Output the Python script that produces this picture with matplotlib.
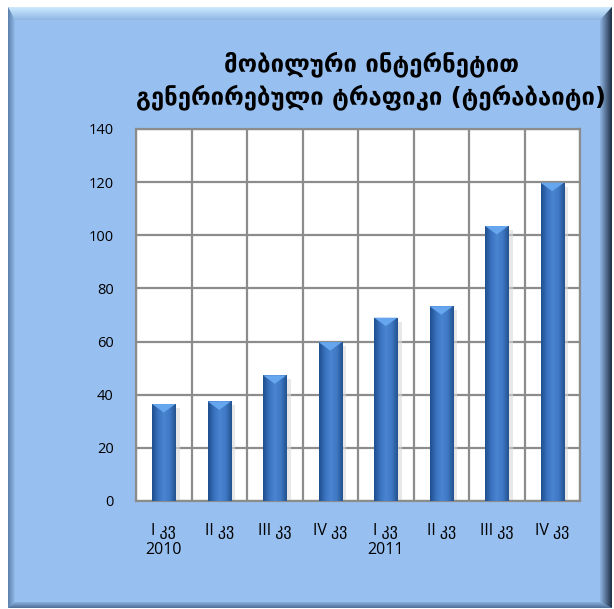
import numpy as np
import matplotlib
matplotlib.use("Agg")
import matplotlib.pyplot as plt
from matplotlib.patches import Polygon, Rectangle
from matplotlib.colors import LinearSegmentedColormap

plt.rcParams['font.family'] = ['Open Sans', 'DejaVu Sans']

# quarterly mobile internet traffic, terabytes
quarters = ["I კვ", "II კვ", "III კვ", "IV კვ", "I კვ", "II კვ", "III კვ", "IV კვ"]
years = ["2010", "", "", "", "2011", "", "", ""]
traffic = [36.5, 37.5, 47.3, 59.8, 69.0, 73.3, 103.5, 119.8]
title = "მობილური ინტერნეტით\nგენერირებული ტრაფიკი (ტერაბაიტი)"

W, H = 614, 609
fig = plt.figure(figsize=(W / 100, H / 100), dpi=100)
fig.patch.set_facecolor("white")

# background panel drawn in pixel coordinates
bg = fig.add_axes([0, 0, 1, 1])
bg.set_xlim(0, W)
bg.set_ylim(H, 0)
bg.axis("off")

L, T, R, B = 8, 7, 612, 608
fill = "#97C0F1"
bg.add_patch(Rectangle((L, T), R - L, B - T, facecolor=fill, edgecolor="none"))


def grad_poly(ax, pts, c0, c1, horizontal, extent):
    poly = Polygon(pts, closed=True, facecolor="none", edgecolor="none")
    ax.add_patch(poly)
    cmap = LinearSegmentedColormap.from_list("g", [c0, c1])
    g = np.linspace(0, 1, 64)
    img = g[None, :] if horizontal else g[:, None]
    im = ax.imshow(img, cmap=cmap, extent=extent, aspect="auto",
                   interpolation="bilinear", zorder=1)
    im.set_clip_path(poly)


bw_top, bw_left, bw_bot, bw_right = 13, 7, 6, 12
# top bevel (light)
grad_poly(bg, [(L, T), (R, T), (R - bw_right, T + bw_top), (L + bw_left, T + bw_top)],
          "#8FB6E4", "#CDEBFF", False, (L, R, T, T + bw_top))
# left bevel
grad_poly(bg, [(L, T), (L + bw_left, T + bw_top), (L + bw_left, B - bw_bot), (L, B)],
          "#5B7FAA", "#93BCEB", True, (L, L + bw_left, B, T))
# bottom bevel
grad_poly(bg, [(L, B), (L + bw_left, B - bw_bot), (R - bw_right, B - bw_bot), (R, B)],
          "#8AB0DC", "#4E6F96", False, (L, R, B, B - bw_bot))
# right bevel (dark)
grad_poly(bg, [(R, T), (R, B), (R - bw_right, B - bw_bot), (R - bw_right, T + bw_top)],
          "#8FB5E2", "#1E2E44", True, (R - bw_right, R, B, T))

fig.text(371 / W, 1 - 81 / H, title, ha="center", va="center",
         fontsize=17.2, fontweight="bold", color="black", linespacing=1.35,
         family=["DejaVu Sans"])

ax = fig.add_axes([136 / W, 1 - 501 / H, 444 / W, 372 / H])
ax.set_facecolor("white")
n = len(traffic)
ax.set_xlim(-0.5, n - 0.5)
ax.set_ylim(0, 140)
ax.set_yticks(np.arange(0, 141, 20))
ax.set_xticks(np.arange(-0.5, n, 1.0), minor=False)
ax.grid(True, color="#8C8C8C", linewidth=1.6, zorder=0)
ax.set_axisbelow(True)
for s in ax.spines.values():
    s.set_color("#8C8C8C")
    s.set_linewidth(1.6)
ax.tick_params(axis="both", length=0, labelsize=10.5)
ax.set_xticklabels([])
ax.tick_params(axis="y", pad=16)
for lbl in ax.get_yticklabels():
    lbl.set_horizontalalignment("right")

# category labels under each bar
for i, (q, y) in enumerate(zip(quarters, years)):
    txt = q if not y else q + "\n" + y
    ax.text(i, -0.06, txt, transform=ax.get_xaxis_transform(), ha="center",
            va="top", fontsize=11.5, linespacing=1.2,
            family=["Open Sans", "DejaVu Sans"])

bar_w = 0.42
bar_cmap = LinearSegmentedColormap.from_list(
    "bar", ["#1E4E8E", "#3A72BE", "#4A85D2", "#3F78C4", "#23528F"])
grad = np.linspace(0, 1, 64)[None, :]
for i, v in enumerate(traffic):
    x0 = i - bar_w / 2
    # soft shadow to the right
    ax.add_patch(Rectangle((x0 + 0.04, -0.5), bar_w + 0.04, v - 1.0,
                           facecolor="#D9D9D9", edgecolor="none", alpha=0.6, zorder=2))
    rect = Rectangle((x0, 0), bar_w, v, facecolor="none", edgecolor="none", zorder=3)
    ax.add_patch(rect)
    im = ax.imshow(grad, cmap=bar_cmap, extent=(x0, x0 + bar_w, 0, v),
                   aspect="auto", interpolation="bilinear", zorder=3)
    im.set_clip_path(rect)
    # pointed highlight at the top
    ax.add_patch(Polygon([(x0, v), (x0 + bar_w, v), (i, v - 3.2)], closed=True,
                         facecolor="#66A6EE", edgecolor="none", zorder=4))

ax.set_xlim(-0.5, n - 0.5)
ax.set_ylim(0, 140)

fig.savefig("out.png", dpi=100)
